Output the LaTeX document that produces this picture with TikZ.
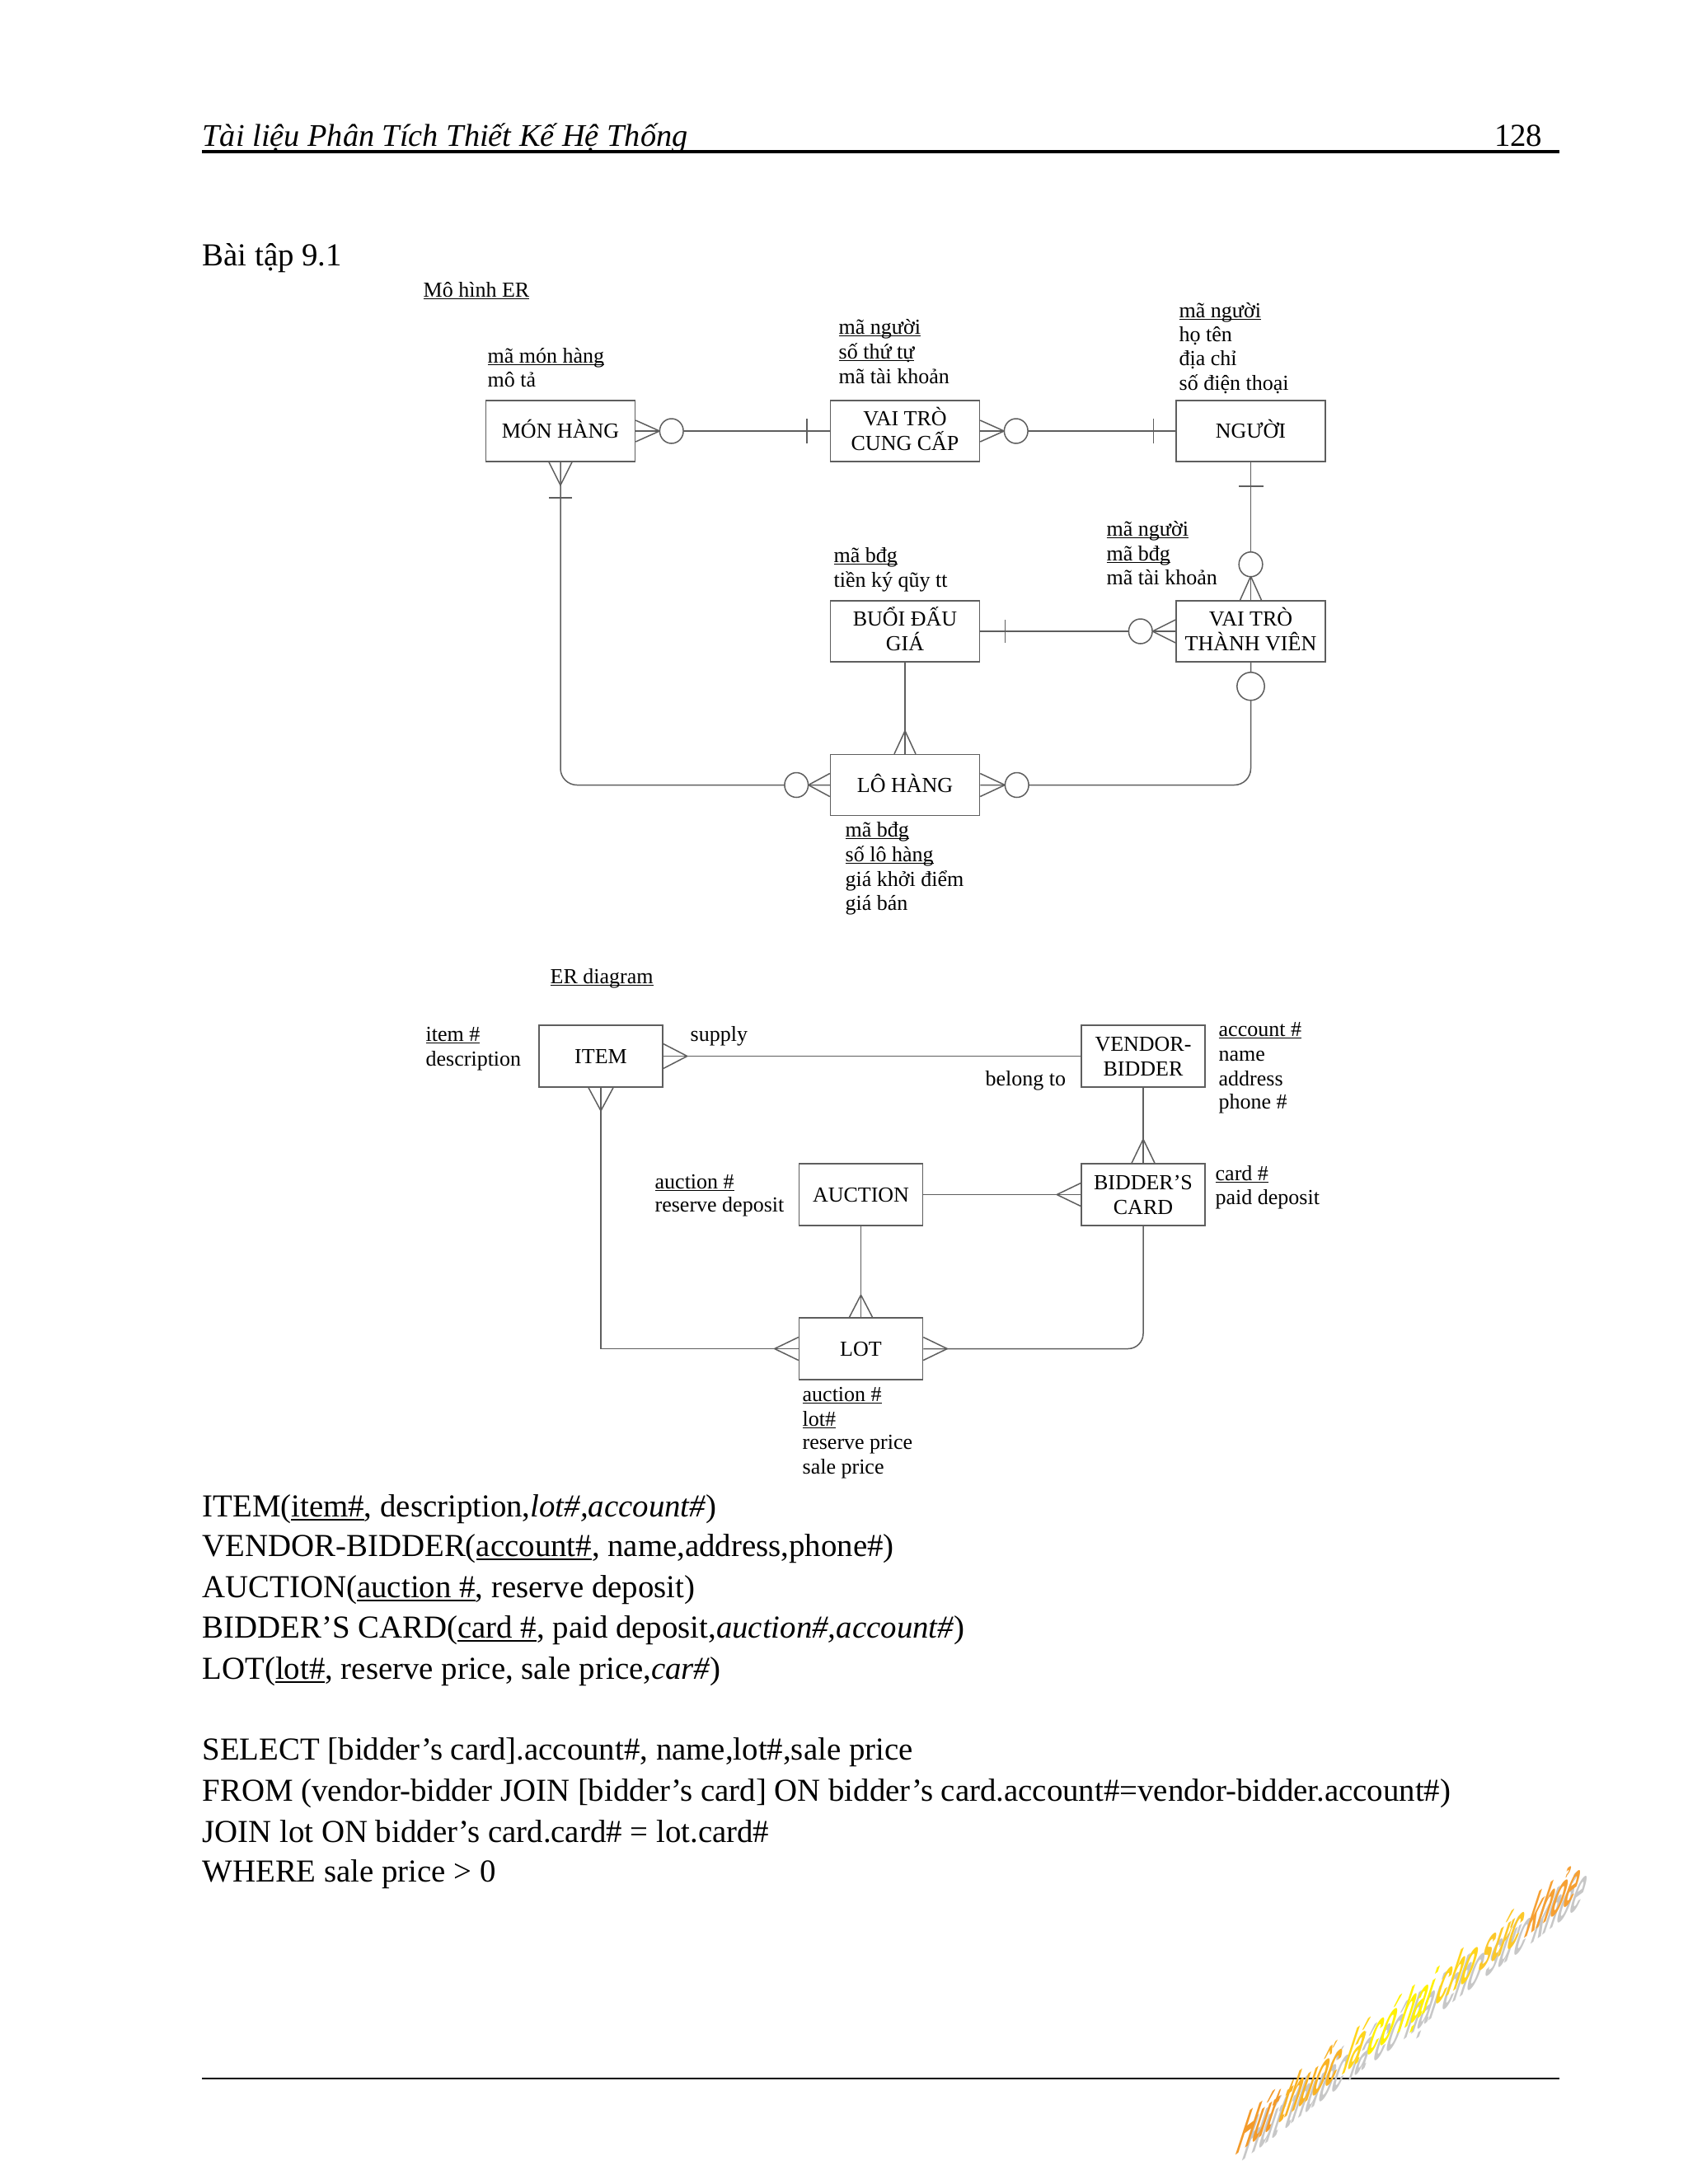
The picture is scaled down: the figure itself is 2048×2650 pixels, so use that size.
\documentclass[tikz,border=0pt]{standalone}
\usepackage{fontspec}
\setmainfont{Liberation Serif}
\newfontfamily\wmfont{Liberation Sans}
\usetikzlibrary{calc}
\definecolor{ln}{HTML}{5E5E5E}
\definecolor{wmA}{HTML}{F39A2A}
\definecolor{wmB}{HTML}{F9B225}
\definecolor{wmC}{HTML}{FFD51C}
\definecolor{wmD}{HTML}{FFF100}
\definecolor{wmE}{HTML}{FCC82A}
\definecolor{wmF}{HTML}{F6A033}
\newcommand\ul[1]{\setbox0\hbox{#1}\rlap{\rule[-0.13em]{\wd0}{0.06em}}\box0}
\newcommand\cl[1]{\vphantom{X}\smash{#1}}
\newcommand\crow[3]{\draw[er] ($(#1)+(#3)$) -- ($(#1)+(#2)$) -- ($(#1)-(#3)$);}
\newcommand\tbar[3]{\draw[er] ($(#1)+(#2)+(#3)$) -- ($(#1)+(#2)-(#3)$);}
\newcommand\ercirc[2]{\draw[er,fill=white] ($(#1)+(#2)$) ellipse [x radius=4.3pt, y radius=4.5pt];}
\begin{document}
\begin{tikzpicture}[x=0.3pt,y=-0.3pt,
  er/.style={draw=ln, line width=0.45pt},
  boxa/.style={draw=ln, line width=0.45pt, minimum width=54.3pt, minimum height=22.2pt, inner sep=0pt, align=center, font=\fontsize{7.8}{9}\selectfont},
  boxb/.style={boxa, minimum width=45pt, minimum height=22.5pt},
  attr/.style={anchor=base west, inner sep=0pt, font=\fontsize{7.8}{9}\selectfont},
  body/.style={anchor=base west, inner sep=0pt, font=\fontsize{11.65}{14}\selectfont},
  wm/.style={transform shape, anchor=base west, inner sep=0pt, font=\wmfont\bfseries\fontsize{10}{12}\selectfont}]
\fill[white] (0,0) rectangle (2048,2650);
\useasboundingbox (0,0) rectangle (2048,2650);

% header
\node[body, font=\fontsize{11.5}{14}\selectfont] (hdr) at (245,177) {\textit{Tài liệu Phân Tích Thiết Kế Hệ Thống}};
\node[body, anchor=base east] (pg) at (1872,177) {128};
\coordinate (hl) at (245,184);
\coordinate (hr) at (1892,184);
\draw[line width=1pt] (hl) -- (hr);
\node[body] (bt) at (245,322) {Bài tập 9.1};

% ===== Diagram 1 =====
\node[attr] (t_mh) at (513,360) {\ul{Mô hình ER}};
\node[boxa] (mon) at (680,523) {\cl{MÓN HÀNG}};
\node[boxa] (vtcc) at (1098,523) {\cl{VAI TRÒ}\\\cl{CUNG CẤP}};
\node[boxa] (nguoi) at (1517.5,523) {\cl{NGƯỜI}};
\node[boxa] (buoi) at (1098,766) {\cl{BUỔI ĐẤU}\\\cl{GIÁ}};
\node[boxa] (vttv) at (1517.5,766) {\cl{VAI TRÒ}\\\cl{THÀNH VIÊN}};
\node[boxa] (lo) at (1098,952.5) {\cl{LÔ HÀNG}};

\node[attr] (a1) at (591,440) {\ul{mã món hàng}};
\node[attr] (a2) at (591,469) {mô tả};
\node[attr] (a3) at (1017,405) {\ul{mã người}};
\node[attr] (a4) at (1017,435) {\ul{số thứ tự}};
\node[attr] (a5) at (1017,465) {mã tài khoản};
\node[attr] (a6) at (1430,385) {\ul{mã người}};
\node[attr] (a7) at (1430,414) {họ tên};
\node[attr] (a8) at (1430,443) {địa chỉ};
\node[attr] (a9) at (1430,473) {số điện thoại};
\node[attr] (a10) at (1011,682) {\ul{mã bđg}};
\node[attr] (a11) at (1011,712) {tiền ký qũy tt};
\node[attr] (a12) at (1342,650) {\ul{mã người}};
\node[attr] (a13) at (1342,680) {\ul{mã bđg}};
\node[attr] (a14) at (1342,709) {mã tài khoản};
\node[attr] (a15) at (1025,1015) {\ul{mã bđg}};
\node[attr] (a16) at (1025,1045) {\ul{số lô hàng}};
\node[attr] (a17) at (1025,1075) {giá khởi điểm};
\node[attr] (a18) at (1025,1104) {giá bán};

% connectors diagram 1
\draw[er] (mon.east) -- (vtcc.west);
\crow{mon.east}{29,0}{0,13}
\ercirc{mon.east}{43.5,0}
\tbar{vtcc.west}{-28,0}{0,15}

\draw[er] (vtcc.east) -- (nguoi.west);
\crow{vtcc.east}{29,0}{0,13}
\ercirc{vtcc.east}{43.5,0}
\tbar{nguoi.west}{-27,0}{0,15}

\draw[er] (nguoi.south) -- (vttv.north);
\tbar{nguoi.south}{0,29}{15,0}
\crow{vttv.north}{0,-29}{13,0}
\ercirc{vttv.north}{0,-43.5}

\draw[er] (vttv.west) -- (buoi.east);
\crow{vttv.west}{-28,0}{0,14}
\ercirc{vttv.west}{-42.5,0}
\tbar{buoi.east}{30,0}{0,14}

\draw[er] (buoi.south) -- (lo.north);
\crow{lo.north}{0,-28}{13,0}

\draw[er, rounded corners=6pt] (lo.west) -| (mon.south);
\crow{lo.west}{-26,0}{0,14}
\ercirc{lo.west}{-40.5,0}
\crow{mon.south}{0,28}{14,0}
\tbar{mon.south}{0,43}{14,0}

\draw[er, rounded corners=6pt] (lo.east) -| (vttv.south);
\crow{lo.east}{30,0}{0,14}
\ercirc{lo.east}{44.5,0}
\draw[er,fill=white] ($(vttv.south)+(0,29)$) ellipse [x radius=5pt, y radius=5.1pt];

% ===== Diagram 2 =====
\node[attr] (t_er) at (667,1193) {\ul{ER diagram}};
\node[boxb] (item) at (729,1281.5) {\cl{ITEM}};
\node[boxb] (vb) at (1387,1281.5) {\cl{VENDOR-}\\\cl{BIDDER}};
\node[boxb] (auction) at (1044.5,1449.5) {\cl{AUCTION}};
\node[boxb] (bc) at (1387,1449.5) {\cl{BIDDER’S}\\\cl{CARD}};
\node[boxb] (lot) at (1044.5,1636.5) {\cl{LOT}};

\node[attr] (b1) at (516,1263) {\ul{item \#}};
\node[attr] (b2) at (516,1293) {description};
\node[attr] (b3) at (837,1263) {supply};
\node[attr] (b4) at (1195,1317) {belong to};
\node[attr] (b5) at (1478,1257) {\ul{account \#}};
\node[attr] (b6) at (1478,1287) {name};
\node[attr] (b7) at (1478,1317) {address};
\node[attr] (b8) at (1478,1345) {phone \#};
\node[attr] (b9) at (794,1442) {\ul{auction \#}};
\node[attr] (b10) at (794,1470) {reserve deposit};
\node[attr] (b11) at (1474,1432) {\ul{card \#}};
\node[attr] (b12) at (1474,1461) {paid deposit};
\node[attr] (b13) at (973,1700) {\ul{auction \#}};
\node[attr] (b14) at (973,1730) {\ul{lot\#}};
\node[attr] (b15) at (973,1758) {reserve price};
\node[attr] (b16) at (973,1788) {sale price};

\draw[er] (item.east) -- (vb.west);
\crow{item.east}{29,0}{0,15}
\draw[er] (vb.south) -- (bc.north);
\crow{bc.north}{0,-29}{14,0}
\draw[er] (auction.east) -- (bc.west);
\crow{bc.west}{-29,0}{0,14}
\draw[er] (auction.south) -- (lot.north);
\crow{lot.north}{0,-27}{14,0}
\draw[er] (item.south) |- (lot.west);
\crow{item.south}{0,28}{15,0}
\crow{lot.west}{-29,0}{0,14}
\draw[er, rounded corners=5.5pt] (bc.south) |- (lot.east);
\crow{lot.east}{29,0}{0,14}

% ===== text =====
\node[body] (t1) at (245,1840) {ITEM(\ul{item\#}, description,\textit{lot\#,account\#})};
\node[body] (t2) at (245,1888) {VENDOR-BIDDER(\ul{account\#}, name,address,phone\#)};
\node[body] (t3) at (245,1938) {AUCTION(\ul{auction \#}, reserve deposit)};
\node[body] (t4) at (245,1987) {BIDDER’S CARD(\ul{card \#}, paid deposit,\textit{auction\#,account\#})};
\node[body] (t5) at (245,2037) {LOT(\ul{lot\#}, reserve price, sale price,\textit{car\#})};
\node[body] (s1) at (245,2135) {SELECT [bidder’s card].account\#, name,lot\#,sale price};
\node[body] (s2) at (245,2185) {FROM (vendor-bidder JOIN [bidder’s card] ON bidder’s card.account\#=vendor-bidder.account\#)};
\node[body] (s3) at (245,2235) {JOIN lot ON bidder’s card.card\# = lot.card\#};
\node[body] (s4) at (245,2283) {WHERE sale price > 0};

% footer rule
\coordinate (fl) at (245,2522);
\coordinate (fr) at (1892,2522);
\draw[line width=0.7pt] (fl) -- (fr);

% watermark
\begin{scope}[shift={(1505,2624)}, cm={0.783,0.590,0.773,2.378,(0pt,0pt)}]
\node[wm, text=black!22] (wms) at (0,0) {Hút thuốc lá có hại cho sức khỏe};
\end{scope}
\begin{scope}[shift={(1497,2617)}, cm={0.783,0.590,0.773,2.378,(0pt,0pt)}]
\node[wm] (wmt) at (0,0) {\color{wmA}Hút \color{wmB}thuốc \color{wmC}lá \color{wmD}có hại \color{wmC}cho \color{wmE}sức \color{wmF}khỏe};
\end{scope}
\end{tikzpicture}
\end{document}
